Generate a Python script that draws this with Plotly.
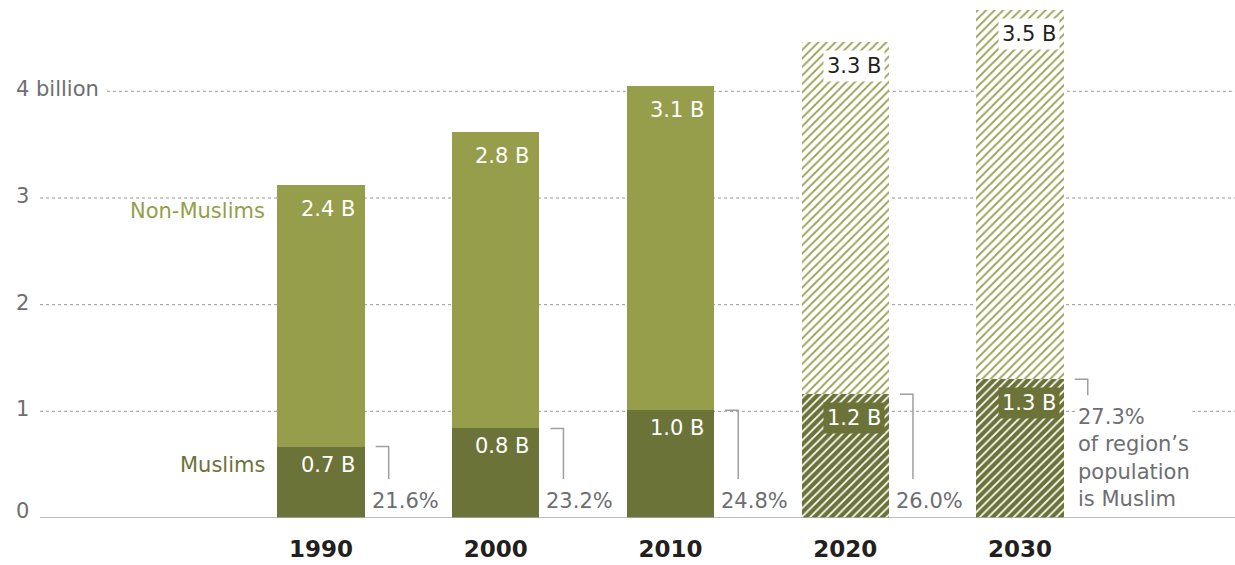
import plotly.graph_objects as go

years = [1990, 2000, 2010, 2020, 2030]
muslims = [0.67, 0.84, 1.01, 1.16, 1.30]
non_muslims = [2.45, 2.78, 3.04, 3.30, 3.46]
muslim_labels = ["0.7 B", "0.8 B", "1.0 B", "1.2 B", "1.3 B"]
non_muslim_labels = ["2.4 B", "2.8 B", "3.1 B", "3.3 B", "3.5 B"]
share_labels = ["21.6%", "23.2%", "24.8%", "26.0%", "27.3%"]
projected = [False, False, False, True, True]
y_ticks = [0, 1, 2, 3, 4]
y_tick_text = ["0", "1", "2", "3", "4 billion"]

LIGHT = "#969d4b"
DARK = "#6c7338"
GREY_TXT = "#6d6e71"
FONT = "Verdana, DejaVu Sans, sans-serif"
FS = 21
BAR_W = 5

obs = [i for i, p in enumerate(projected) if not p]
proj = [i for i, p in enumerate(projected) if p]

fig = go.Figure()
fig.add_trace(go.Bar(
    x=[years[i] for i in obs], y=[muslims[i] for i in obs], width=BAR_W,
    marker=dict(color=DARK, line=dict(width=0)), hoverinfo="skip"))
fig.add_trace(go.Bar(
    x=[years[i] for i in proj], y=[muslims[i] for i in proj], width=BAR_W,
    marker=dict(color=DARK, line=dict(width=0),
                pattern=dict(shape="/", fillmode="overlay", fgcolor="white", fgopacity=1,
                             size=6, solidity=0.28)),
    hoverinfo="skip"))
fig.add_trace(go.Bar(
    x=[years[i] for i in obs], y=[non_muslims[i] for i in obs], width=BAR_W,
    marker=dict(color=LIGHT, line=dict(width=0)), hoverinfo="skip"))
fig.add_trace(go.Bar(
    x=[years[i] for i in proj], y=[non_muslims[i] for i in proj], width=BAR_W,
    marker=dict(color="white", line=dict(width=0),
                pattern=dict(shape="/", fillmode="overlay", fgcolor=LIGHT, fgopacity=1,
                             size=6, solidity=0.3)),
    hoverinfo="skip"))

shapes = []
for v in y_ticks[1:]:
    x0 = 0.056 if v == 4 else 0.0
    shapes.append(dict(type="line", xref="paper", yref="y", x0=x0, x1=1, y0=v, y1=v,
                       line=dict(color="#9a9a9a", width=1, dash="dot"), layer="below"))
shapes.append(dict(type="line", xref="paper", yref="y", x0=0, x1=1, y0=0, y1=0,
                   line=dict(color="#a7a9ac", width=1.5), layer="above"))

annotations = []
for v, t in zip(y_ticks, y_tick_text):
    annotations.append(dict(xref="paper", yref="y", x=-0.0218, y=v, text=t, showarrow=False,
                            xanchor="left", yanchor="middle", yshift=2 if v else 7,
                            font=dict(family=FONT, size=FS, color=GREY_TXT)))

for i, yr in enumerate(years):
    m = muslims[i]
    tot = muslims[i] + non_muslims[i]
    right = yr + BAR_W / 2
    p = projected[i]
    annotations.append(dict(x=right, y=tot, xref="x", yref="y", text=non_muslim_labels[i],
                            showarrow=False, xanchor="right", yanchor="top",
                            xshift=-4 if p else -8, yshift=-8 if p else -10,
                            bgcolor="white" if p else None, borderpad=3 if p else 1,
                            font=dict(family=FONT, size=FS, color="#231f20" if p else "white")))
    annotations.append(dict(x=right, y=m, xref="x", yref="y", text=muslim_labels[i],
                            showarrow=False, xanchor="right", yanchor="top",
                            xshift=-4 if p else -8, yshift=-8 if p else -4,
                            bgcolor=DARK if p else None, borderpad=3 if p else 1,
                            font=dict(family=FONT, size=FS, color="white")))
    bx0 = right + 11 / 17.475
    bx1 = right + 24 / 17.475
    ybot = 0.365 if i < 4 else m - 0.15
    shapes.append(dict(type="path", xref="x", yref="y",
                       path=f"M {bx0},{m} L {bx1},{m} L {bx1},{ybot}",
                       line=dict(color="#9d9fa2", width=1.5), layer="above"))
    if i < 4:
        annotations.append(dict(x=right, y=0, xref="x", yref="y", text=share_labels[i],
                                showarrow=False, xanchor="left", yanchor="bottom",
                                xshift=5, yshift=3,
                                font=dict(family=FONT, size=FS, color=GREY_TXT)))
    else:
        annotations.append(dict(x=right, y=m, xref="x", yref="y",
                                text=share_labels[i] + "<br>of region’s<br>population<br>is Muslim",
                                showarrow=False, xanchor="left", yanchor="top", align="left",
                                xshift=11, yshift=-23, bgcolor="white", borderpad=2,
                                font=dict(family=FONT, size=FS, color=GREY_TXT)))

annotations.append(dict(x=years[0] - BAR_W / 2, y=muslims[0] + non_muslims[0], xref="x", yref="y",
                        text="Non-Muslims", showarrow=False, xanchor="right", yanchor="top",
                        xshift=-10, yshift=-12, font=dict(family=FONT, size=FS, color=LIGHT)))
annotations.append(dict(x=years[0] - BAR_W / 2, y=muslims[0], xref="x", yref="y",
                        text="Muslims", showarrow=False, xanchor="right", yanchor="top",
                        xshift=-10, yshift=-4, font=dict(family=FONT, size=FS, color=DARK)))

fig.update_layout(
    width=1235, height=565,
    margin=dict(l=40, r=0, t=6, b=47),
    barmode="stack",
    showlegend=False,
    plot_bgcolor="white", paper_bgcolor="white",
    shapes=shapes, annotations=annotations,
    xaxis=dict(range=[1973.92, 2042.3], tickvals=years,
               ticktext=[f"<b>{y}</b>" for y in years],
               tickfont=dict(family=FONT, size=23, color="#231f20"),
               showgrid=False, zeroline=False, showline=False, ticks="", ticklabelstandoff=15),
    yaxis=dict(range=[0, 4.8], showgrid=False, zeroline=False, showline=False,
               showticklabels=False, ticks=""),
)

fig.write_html("out.html", config={"displayModeBar": False},
               post_script="document.body.style.margin='0';document.body.style.padding='0';")
